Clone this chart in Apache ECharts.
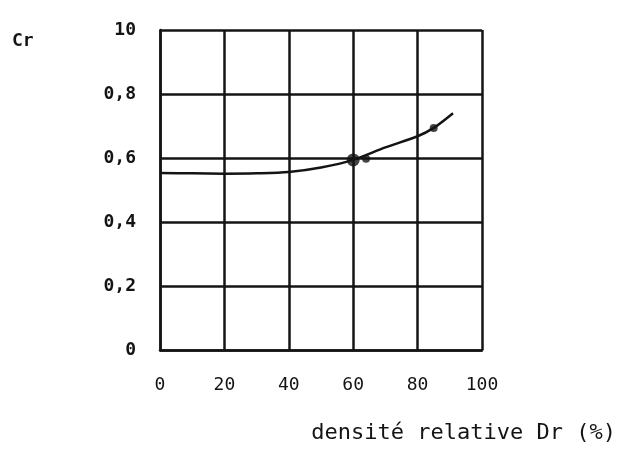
<!DOCTYPE html>
<html>
<head>
<meta charset="utf-8">
<script src="https://cdn.jsdelivr.net/npm/echarts@6/dist/echarts.min.js"></script>
<style>html,body{margin:0;padding:0;background:#fff;}#c{width:620px;height:449px;}</style>
</head>
<body>
<div id="c"></div>
<script>
const drValues = [0, 10, 20, 30, 40, 50, 60, 70, 80, 85, 91];
const crValues = [0.553, 0.552, 0.551, 0.552, 0.556, 0.570, 0.594, 0.633, 0.668, 0.694, 0.74];
const markDr = [60, 64, 85];
const markCr = [0.594, 0.598, 0.694];
const yTickLabels = {0: '0', 0.2: '0,2', 0.4: '0,4', 0.6: '0,6', 0.8: '0,8', 1: '10'};
const xTitle = 'densité relative Dr (%)';
const yTitle = 'Cr';

const ink = '#141414';
const font = 'DejaVu Sans Mono';
const chart = echarts.init(document.getElementById('c'));
chart.setOption({
  backgroundColor: '#ffffff',
  animation: false,
  grid: {left: 160, right: 138, top: 30, bottom: 99},
  xAxis: {
    type: 'value', min: 0, max: 100, interval: 20,
    name: xTitle, nameLocation: 'end', nameGap: 0,
    nameTextStyle: {fontFamily: font, fontSize: 22, color: ink, align: 'right', verticalAlign: 'top', padding: [72, -134, 0, 0]},
    axisLine: {show: true, lineStyle: {color: ink, width: 2.5}},
    axisTick: {show: false},
    axisLabel: {margin: 26, fontFamily: font, fontSize: 18, color: ink},
    splitLine: {show: true, lineStyle: {color: ink, width: 2.5}}
  },
  yAxis: {
    type: 'value', min: 0, max: 1, interval: 0.2,
    axisLine: {show: true, lineStyle: {color: ink, width: 2.5}},
    axisTick: {show: false},
    axisLabel: {margin: 24, fontFamily: font, fontSize: 18, fontWeight: 'bold', color: ink,
      formatter: v => yTickLabels[Math.round(v * 10) / 10] ?? ''},
    splitLine: {show: true, lineStyle: {color: ink, width: 2.5}}
  },
  graphic: [{type: 'text', left: 12, top: 32, style: {text: yTitle, font: 'bold 18px "DejaVu Sans Mono"', fill: ink}}],
  series: [
    {type: 'line', smooth: 0.3, showSymbol: false, data: drValues.map((d, i) => [d, crValues[i]]),
     lineStyle: {color: ink, width: 2.5}},
    {type: 'scatter', data: markDr.map((d, i) => [d, markCr[i]]),
     symbolSize: (v, p) => p.dataIndex === 0 ? 13 : 8, itemStyle: {color: ink}}
  ]
});
</script>
</body>
</html>
